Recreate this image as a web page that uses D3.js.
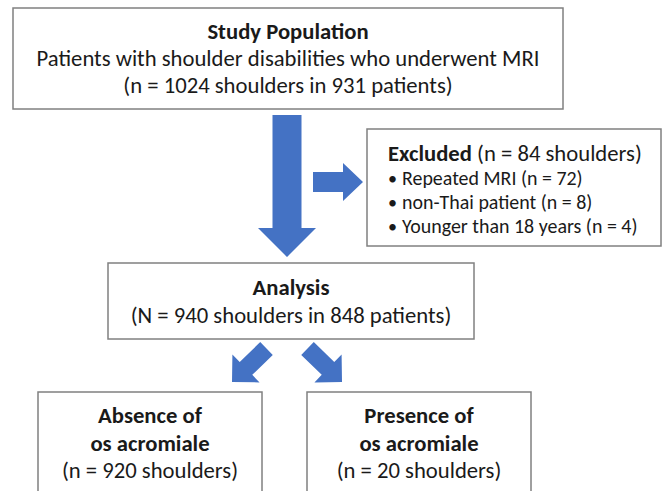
<!DOCTYPE html>
<html>
<head>
<meta charset="utf-8">
<script src="https://cdn.jsdelivr.net/npm/d3@7"></script>
<style>
  body { margin: 0; background: #fff; }
  text { font-family: Carlito, Lato, "Noto Sans", sans-serif; fill: #1a1a1a; }
</style>
</head>
<body>
<div id="chart"></div>
<script>
// Box contents
const studyLines = ["Study Population", "Patients with shoulder disabilities who underwent MRI", "(n = 1024 shoulders in 931 patients)"];
const analysisLines = ["Analysis", "(N = 940 shoulders in 848 patients)"];
const absenceLines = ["Absence of", "os acromiale", "(n = 920 shoulders)"];
const presenceLines = ["Presence of", "os acromiale", "(n = 20 shoulders)"];
const excludedHead = ["Excluded", " (n = 84 shoulders)"];
const excludedItems = ["Repeated MRI (n = 72)", "non-Thai patient (n = 8)", "Younger than 18 years (n = 4)"];

const width = 666, height = 491;
const blue = "#4472c4", border = "#808080";

const svg = d3.select("#chart").append("svg")
    .attr("width", width)
    .attr("height", height);

// font size fitted to the widest line of the top box
const probe = svg.append("text").style("font-size", "20px").text(studyLines[1]);
const fs = 20 * 503 / probe.node().getComputedTextLength();
probe.remove();

// Boxes (nBold = how many leading lines are bold)
const boxes = [
    {x: 13, y: 8, w: 550, h: 101, lines: studyLines, nBold: 1, base: 39, step: 27},
    {x: 108, y: 263, w: 366, h: 76, lines: analysisLines, nBold: 1, base: 295, step: 28},
    {x: 38, y: 392, w: 224, h: 110, lines: absenceLines, nBold: 2, base: 423, step: 27.5},
    {x: 307, y: 392, w: 224, h: 110, lines: presenceLines, nBold: 2, base: 423, step: 27.5}
];

boxes.forEach(b => {
    svg.append("rect")
        .attr("x", b.x).attr("y", b.y)
        .attr("width", b.w).attr("height", b.h)
        .attr("fill", "#fff")
        .attr("stroke", border)
        .attr("stroke-width", 1.5);
    svg.selectAll(null)
        .data(b.lines)
        .enter()
        .append("text")
        .attr("x", b.x + b.w / 2)
        .attr("y", (d, i) => b.base + i * b.step)
        .attr("text-anchor", "middle")
        .style("font-size", fs + "px")
        .style("font-weight", (d, i) => i < b.nBold ? "bold" : "normal")
        .text(d => d);
});

// Excluded box
svg.append("rect")
    .attr("x", 367).attr("y", 129)
    .attr("width", 294).attr("height", 117)
    .attr("fill", "#fff")
    .attr("stroke", border)
    .attr("stroke-width", 1.5);

const head = svg.append("text")
    .attr("x", 388).attr("y", 161)
    .style("font-size", fs + "px");
head.append("tspan").style("font-weight", "bold").text(excludedHead[0]);
head.append("tspan").text(excludedHead[1]);

const items = svg.selectAll(".item")
    .data(excludedItems)
    .enter()
    .append("g")
    .attr("class", "item")
    .attr("transform", (d, i) => `translate(0,${185 + i * 24})`);
items.append("text").attr("x", 388).style("font-size", (fs * 0.8) + "px").text("•");
items.append("text").attr("x", 402).style("font-size", (fs * 0.88) + "px").text(d => d);

// Block arrows: tail centre -> tip
function blockArrow(x0, y0, x1, y1, sw, hw, hl) {
    const len = Math.hypot(x1 - x0, y1 - y0);
    const ux = (x1 - x0) / len, uy = (y1 - y0) / len;
    const nx = -uy, ny = ux;
    const p = (a, b) => [x0 + ux * a + nx * b, y0 + uy * a + ny * b];
    const pts = [p(0, -sw / 2), p(len - hl, -sw / 2), p(len - hl, -hw / 2), p(len, 0),
                 p(len - hl, hw / 2), p(len - hl, sw / 2), p(0, sw / 2)];
    return "M" + pts.map(q => q.join(",")).join("L") + "Z";
}

const arrows = [
    [287, 115, 287, 257, 29, 58, 29],
    [313, 182, 363, 182, 20, 38, 20],
    [266.5, 348.5, 232, 382, 18, 39, 19.5],
    [307.5, 348.5, 342, 382, 18, 39, 19.5]
];

svg.selectAll(".arrow")
    .data(arrows)
    .enter()
    .append("path")
    .attr("class", "arrow")
    .attr("d", d => blockArrow(...d))
    .attr("fill", blue);
</script>
</body>
</html>
